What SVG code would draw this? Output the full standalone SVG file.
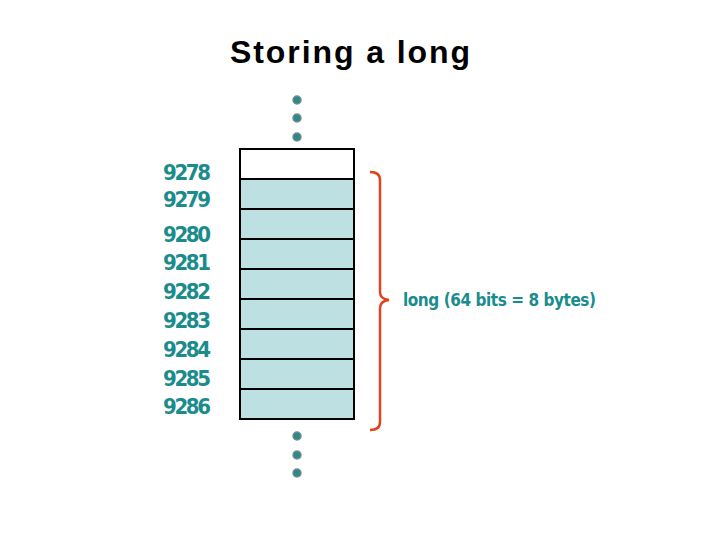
<svg xmlns="http://www.w3.org/2000/svg" width="720" height="540" viewBox="0 0 720 540">
<style>
.cell{fill:#bde0e3;stroke:#000;stroke-width:2}
.lbl{font-family:"DejaVu Sans Condensed","Liberation Sans",sans-serif;font-weight:bold;font-size:22px;fill:#1a8c8c}
.dot{fill:#2a8a8a;stroke:#7a8a8a;stroke-width:1.5}
</style>
<rect width="720" height="540" fill="#fff"/>
<text x="230" y="63" font-family="Liberation Sans, sans-serif" font-weight="bold" font-size="32" fill="#000" textLength="240">Storing a long</text>
<g id="dots-top"><circle class="dot" cx="297" cy="100" r="4"/><circle class="dot" cx="297" cy="118" r="4"/><circle class="dot" cx="297" cy="137" r="4"/></g>
<g id="memory">
<rect x="240" y="149" width="114" height="30" fill="#fff" stroke="#000" stroke-width="2"/>
<rect class="cell" x="240" y="179" width="114" height="30"/>
<rect class="cell" x="240" y="209" width="114" height="30"/>
<rect class="cell" x="240" y="239" width="114" height="30"/>
<rect class="cell" x="240" y="269" width="114" height="30"/>
<rect class="cell" x="240" y="299" width="114" height="30"/>
<rect class="cell" x="240" y="329" width="114" height="30"/>
<rect class="cell" x="240" y="359" width="114" height="30"/>
<rect class="cell" x="240" y="389" width="114" height="30"/>
</g>
<g id="dots-bottom"><circle class="dot" cx="297" cy="436" r="4"/><circle class="dot" cx="297" cy="455" r="4"/><circle class="dot" cx="297" cy="473" r="4"/></g>
<g id="labels">
<text class="lbl" x="163" y="180" textLength="48">9278</text>
<text class="lbl" x="163" y="207" textLength="48">9279</text>
<text class="lbl" x="163" y="242" textLength="48">9280</text>
<text class="lbl" x="163" y="270" textLength="48">9281</text>
<text class="lbl" x="163" y="299" textLength="48">9282</text>
<text class="lbl" x="163" y="328" textLength="48">9283</text>
<text class="lbl" x="163" y="357" textLength="48">9284</text>
<text class="lbl" x="163" y="386" textLength="48">9285</text>
<text class="lbl" x="163" y="414" textLength="48">9286</text>
</g>
<g id="connectors">
<path d="M370,172 Q380,172 380,180 L380,292 Q380,299 389,300 Q380,301 380,308 L380,422 Q380,430 370,430" fill="none" stroke="#e0441c" stroke-width="2.5"/>
</g>
<g id="brace-label"><text class="lbl" x="403" y="306" style="font-size:17px" textLength="193">long (64 bits = 8 bytes)</text></g>
</svg>
